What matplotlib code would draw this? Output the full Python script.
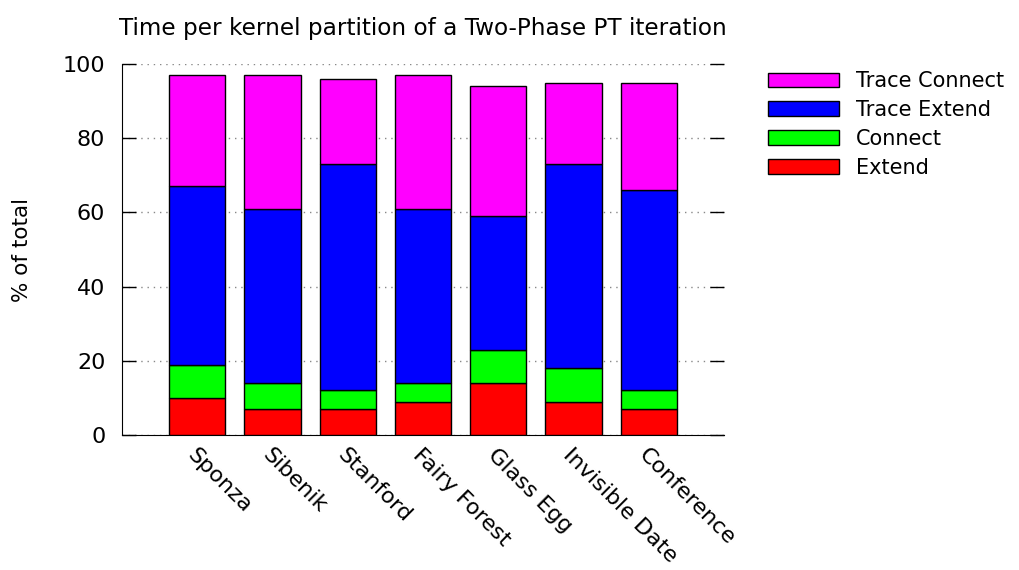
import numpy as np
import matplotlib.pyplot as plt
from matplotlib.patches import Patch

# escenas y porcentaje de tiempo por particion de kernels
escenas = ['Sponza', 'Sibenik', 'Stanford', 'Fairy Forest', 'Glass Egg',
           'Invisible Date', 'Conference']
extend = [10, 7, 7, 9, 14, 9, 7]
connect = [9, 7, 5, 5, 9, 9, 5]
trace_extend = [48, 47, 61, 47, 36, 55, 54]
trace_connect = [30, 36, 23, 36, 35, 22, 29]

series = [('Extend', extend, '#ff0000'),
          ('Connect', connect, '#00ff00'),
          ('Trace Extend', trace_extend, '#0000ff'),
          ('Trace Connect', trace_connect, '#ff00ff')]

plt.rcParams['font.family'] = ['DejaVu Sans']

fig = plt.figure(figsize=(10.19, 5.70), dpi=100)
ax = fig.add_axes([122 / 1019, 1 - 435 / 570, (724 - 122) / 1019, (435 - 64) / 570])

x = np.arange(len(escenas))
base = np.zeros(len(escenas))
for nombre, valores, color in series:  # apila cada particion sobre la anterior
    ax.bar(x, valores, 0.75, bottom=base, color=color, edgecolor='black',
           linewidth=1.0, zorder=3)
    base += np.array(valores)

ax.set_xlim(-1, 7)
ax.set_ylim(0, 100)
ax.set_yticks([0, 20, 40, 60, 80, 100])
ax.set_xticks(x)
ax.set_xticklabels(escenas, rotation=-45, ha='left', va='top',
                   rotation_mode='anchor', fontsize=16)
ax.tick_params(axis='x', length=0, pad=7)
ax.tick_params(axis='y', direction='in', length=10, width=1, right=True,
               labelsize=16, pad=12)
ax.grid(axis='y', linestyle=(0, (1, 3.5)), color='#888888', linewidth=1.0, zorder=0)
ax.spines['top'].set_visible(False)
ax.spines['right'].set_visible(False)
ax.set_ylabel('% of total', fontsize=15.5, labelpad=22)
ax.set_title('Time per kernel partition of a Two-Phase PT iteration',
             fontsize=16.7, pad=21)

# leyenda a la derecha, de arriba hacia abajo
handles = [Patch(facecolor=c, edgecolor='black', linewidth=1.0, label=n)
           for n, v, c in reversed(series)]
fig.legend(handles=handles, loc='upper left', bbox_to_anchor=(760 / 1019, 1 - 63 / 570),
           frameon=False, fontsize=15, handlelength=3.4, handleheight=0.7,
           labelspacing=0.42, handletextpad=0.8, borderaxespad=0)

plt.savefig('out.png', dpi=100)
